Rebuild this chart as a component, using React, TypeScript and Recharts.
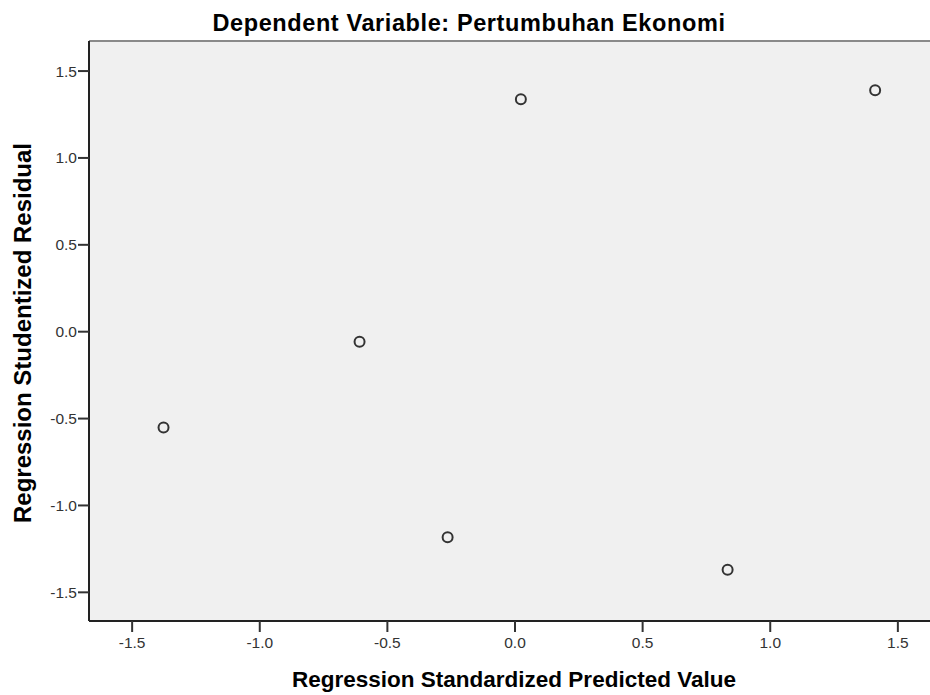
import React from "react";
import { ScatterChart, Scatter, XAxis, YAxis, CartesianGrid, ReferenceLine } from "recharts";

const predicted = [-1.377, -0.609, -0.264, 0.023, 0.833, 1.411];
const residual = [-0.552, -0.058, -1.183, 1.338, -1.37, 1.39];
const xTicks = [-1.5, -1.0, -0.5, 0.0, 0.5, 1.0, 1.5];
const yTicks = [-1.5, -1.0, -0.5, 0.0, 0.5, 1.0, 1.5];
const title = "Dependent Variable: Pertumbuhan Ekonomi";
const xLabel = "Regression Standardized Predicted Value";
const yLabel = "Regression Studentized Residual";

const data = predicted.map((x, i) => ({ x, y: residual[i] }));

const FONT = "'Liberation Sans', Arial, sans-serif";
const X_DOMAIN: [number, number] = [-1.669, 1.669];
const Y_DOMAIN: [number, number] = [-1.665, 1.673];

const Marker = (props: any) => {
  const { cx, cy } = props;
  if (cx == null || cy == null) return null;
  return <circle cx={cx} cy={cy} r={5} fill="none" stroke="#333" strokeWidth={2} />;
};

export default function App() {
  return (
    <div style={{ position: "absolute", left: 0, top: 0, width: 930, height: 695, overflow: "hidden", background: "#fff" }}>
      <ScatterChart width={951} height={695} margin={{ top: 41, right: 10, bottom: 0, left: 0 }}>
        <CartesianGrid fill="#F0F0F0" horizontal={false} vertical={false} />
        <XAxis
          type="number"
          dataKey="x"
          domain={X_DOMAIN}
          ticks={xTicks}
          allowDataOverflow
          tickFormatter={(v: number) => v.toFixed(1)}
          height={74}
          tickSize={11}
          tickMargin={5}
          axisLine={{ stroke: "#222", strokeWidth: 2 }}
          tickLine={{ stroke: "#333", strokeWidth: 2 }}
          tick={{ fill: "#333", fontSize: 15.5, fontFamily: FONT }}
        />
        <YAxis
          type="number"
          dataKey="y"
          domain={Y_DOMAIN}
          ticks={yTicks}
          allowDataOverflow
          tickFormatter={(v: number) => v.toFixed(1)}
          width={89}
          tickSize={11}
          tickMargin={1}
          axisLine={{ stroke: "#222", strokeWidth: 2 }}
          tickLine={{ stroke: "#333", strokeWidth: 2 }}
          tick={{ fill: "#333", fontSize: 15.5, fontFamily: FONT }}
        />
        <ReferenceLine y={Y_DOMAIN[1]} stroke="#8a8a8a" strokeWidth={2} />
        <Scatter data={data} shape={Marker} isAnimationActive={false} />
        <text x={469} y={31} textAnchor="middle" fontFamily={FONT} fontWeight="bold" fontSize={23.5} letterSpacing={0.6} fill="#000">
          {title}
        </text>
        <text x={514} y={687} textAnchor="middle" fontFamily={FONT} fontWeight="bold" fontSize={22.5} fill="#000">
          {xLabel}
        </text>
        <text
          x={31}
          y={333}
          textAnchor="middle"
          fontFamily={FONT}
          fontWeight="bold"
          fontSize={24}
          fill="#000"
          transform="rotate(-90, 31, 333)"
        >
          {yLabel}
        </text>
      </ScatterChart>
    </div>
  );
}
